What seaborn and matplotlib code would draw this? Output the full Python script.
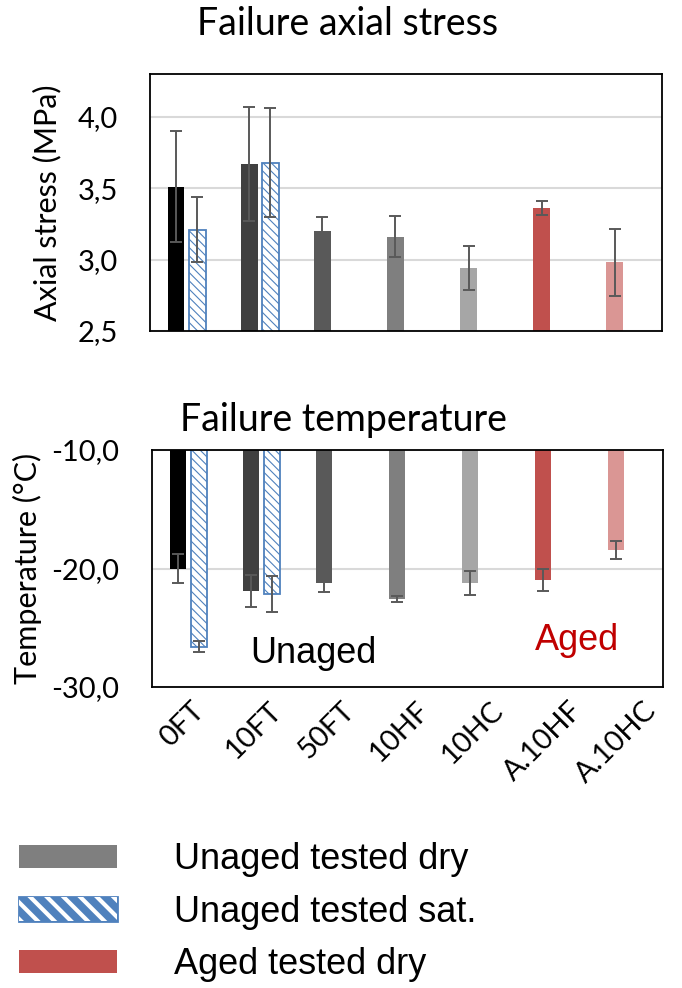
import numpy as np
import pandas as pd
import matplotlib
matplotlib.use("Agg")
import matplotlib.pyplot as plt
import matplotlib.transforms as mtransforms
from matplotlib.patches import Patch, Rectangle
from matplotlib.legend_handler import HandlerTuple
from matplotlib.ticker import FuncFormatter, FixedLocator
import seaborn as sns

# ---- data -------------------------------------------------------------
samples = ["0FT", "10FT", "50FT", "10HF", "10HC", "A.10HF", "A.10HC"]
sat_samples = ["0FT", "10FT"]
dry_colors = ["#000000", "#404040", "#595959", "#7F7F7F", "#A6A6A6", "#C0504D", "#DA9694"]

stress_dry = [3.51, 3.67, 3.20, 3.16, 2.94, 3.36, 2.98]
stress_dry_err = [0.39, 0.40, 0.10, 0.145, 0.155, 0.05, 0.235]
stress_sat = [3.21, 3.68]
stress_sat_err = [0.23, 0.38]

temp_dry = [-20.0, -21.9, -21.2, -22.55, -21.2, -20.97, -18.44]
temp_dry_err = [1.25, 1.35, 0.80, 0.25, 1.00, 0.95, 0.76]
temp_sat = [-26.6, -22.15]
temp_sat_err = [0.45, 1.55]

stress_ticks = [2.5, 3.0, 3.5, 4.0]
temp_ticks = [-30.0, -20.0, -10.0]

# ---- style ------------------------------------------------------------
sns.set_theme(style="white")
plt.rcParams["font.family"] = ["Lato", "DejaVu Sans"]
plt.rcParams["hatch.linewidth"] = 0.8
for key in ("text.color", "axes.labelcolor", "xtick.color", "ytick.color"):
    plt.rcParams[key] = "black"

SAT_BLUE = "#4F81BD"
ERR_GREY = "#595959"
GRID_GREY = "#D9D9D9"
DPI = 100

fig = plt.figure(figsize=(6.82, 9.88), dpi=DPI)
W, H = 682, 988


def frame(px_left, px_top, px_right, px_bottom):
    return [px_left / W, 1 - px_bottom / H, (px_right - px_left) / W, (px_bottom - px_top) / H]


ax_top = fig.add_axes(frame(150, 74, 662, 331))
ax_bot = fig.add_axes(frame(152, 450, 663, 687))


def long_table(dry, dry_err, sat, sat_err):
    rows = []
    for s, v, e in zip(samples, dry, dry_err):
        rows.append({"sample": s, "condition": "dry", "value": v, "err": e})
    for s, v, e in zip(sat_samples, sat, sat_err):
        rows.append({"sample": s, "condition": "sat", "value": v, "err": e})
    return pd.DataFrame(rows)


def comma_fmt(v, pos=None):
    return f"{v:.1f}".replace(".", ",")


def draw_panel(ax, table, ylim, ticks, tick_pad):
    sns.barplot(
        data=table, x="sample", y="value", hue="condition",
        order=samples, hue_order=["dry", "sat"],
        palette={"dry": "#7F7F7F", "sat": "white"},
        width=0.576, gap=0.2, errorbar=None, legend=False, ax=ax,
    )
    # one grey/red shade per dry sample, blue hatch for the saturated ones
    centers = {}
    for p in ax.patches:
        h = p.get_height()
        if not np.isfinite(h) or p.get_width() == 0:
            continue
        cx = p.get_x() + p.get_width() / 2
        i = int(round(cx))
        if cx < i:
            p.set_facecolor(dry_colors[i])
            p.set_edgecolor("none")
            p.set_linewidth(0)
            centers[(samples[i], "dry")] = cx
        else:
            p.set_facecolor("white")
            p.set_edgecolor(SAT_BLUE)
            p.set_hatch("\\\\\\\\")
            p.set_linewidth(1.3)
            centers[(samples[i], "sat")] = cx
    xs = [centers[(r.sample, r.condition)] for r in table.itertuples()]
    ax.errorbar(xs, table["value"], yerr=table["err"], fmt="none",
                ecolor=ERR_GREY, elinewidth=1.4, capsize=4.5, capthick=1.4, zorder=4)

    ax.set_ylim(*ylim)
    ax.set_xlim(-0.5, len(samples) - 0.5)
    ax.yaxis.set_major_locator(FixedLocator(ticks))
    ax.yaxis.set_major_formatter(FuncFormatter(comma_fmt))
    ax.yaxis.grid(True, color=GRID_GREY, linewidth=1.5)
    ax.xaxis.grid(False)
    ax.set_axisbelow(True)
    for sp in ax.spines.values():
        sp.set_visible(True)
        sp.set_color("black")
        sp.set_linewidth(1.3)
    ax.tick_params(axis="y", length=0, pad=tick_pad, labelsize=21, labelcolor="black")
    ax.tick_params(axis="x", length=0)
    ax.set_xlabel("")


draw_panel(ax_top, long_table(stress_dry, stress_dry_err, stress_sat, stress_sat_err),
           (2.5, 4.3), stress_ticks, 23)
draw_panel(ax_bot, long_table(temp_dry, temp_dry_err, temp_sat, temp_sat_err),
           (-30.0, -10.0), temp_ticks, 24)

ax_top.set_xticklabels([])
ax_top.set_ylabel("Axial stress (MPa)", fontsize=22, color="black")
ax_top.yaxis.set_label_coords(-0.172, 0.5)

ax_bot.set_ylabel("Temperature (°C)", fontsize=22, color="black")
ax_bot.yaxis.set_label_coords(-0.215, 0.5)

ax_bot.set_xticks(range(len(samples)))
ax_bot.set_xticklabels(samples, rotation=45, ha="right", va="center",
                       rotation_mode="anchor", fontsize=21, color="black")
ax_bot.tick_params(axis="x", pad=14)

# longer rotated labels sit a little further right of their category
fig.canvas.draw()
renderer = fig.canvas.get_renderer()
for lab in ax_bot.get_xticklabels():
    w_px = lab.get_window_extent(renderer).width
    shift = mtransforms.ScaledTranslation((-9.5 + 0.39 * w_px) / DPI, 0,
                                          fig.dpi_scale_trans)
    lab.set_transform(lab.get_transform() + shift)

# panel titles
fig.text(348 / W, 1 - 24 / H, "Failure axial stress", ha="center", va="center",
         fontsize=27, color="black")
fig.text(343 / W, 1 - 420 / H, "Failure temperature", ha="center", va="center",
         fontsize=27, color="black")

# group annotations
arial = ["Liberation Sans", "DejaVu Sans"]
ax_bot.text((250 - 152) / 511, (687 - 663) / 237, "Unaged", transform=ax_bot.transAxes,
            ha="left", va="baseline", fontsize=26, color="black", family=arial)
ax_bot.text((535 - 152) / 511, (687 - 650) / 237, "Aged", transform=ax_bot.transAxes,
            ha="left", va="baseline", fontsize=26, color="#C00000", family=arial)

# legend: the saturated key is a blue block with white diagonal stripes
sat_base = Patch(facecolor=SAT_BLUE, edgecolor=SAT_BLUE, linewidth=2)
sat_stripes = Patch(facecolor="none", edgecolor="white", hatch="\\\\", linewidth=0)
handles = [
    Patch(facecolor="#7F7F7F", edgecolor="none"),
    (sat_base, sat_stripes),
    Patch(facecolor="#C0504D", edgecolor="none"),
]
labels = ["Unaged tested dry", "Unaged tested sat.", "Aged tested dry"]
leg = fig.legend(handles=handles, labels=labels, loc="upper left",
                 bbox_to_anchor=(19 / W, 1 - 842 / H),
                 handler_map={tuple: HandlerTuple(ndivide=1, pad=0)},
                 frameon=False, borderpad=0, borderaxespad=0,
                 handlelength=2.7, handleheight=0.62, handletextpad=1.6, labelspacing=0.49,
                 prop={"family": arial, "size": 26})
for t in leg.get_texts():
    t.set_color("black")
for child in leg.findobj(match=lambda a: isinstance(a, Rectangle)):
    if child.get_hatch() and hasattr(child, "set_hatch_linewidth"):
        child.set_hatch_linewidth(3.0)

fig.savefig("out.png", dpi=DPI, facecolor="white")
